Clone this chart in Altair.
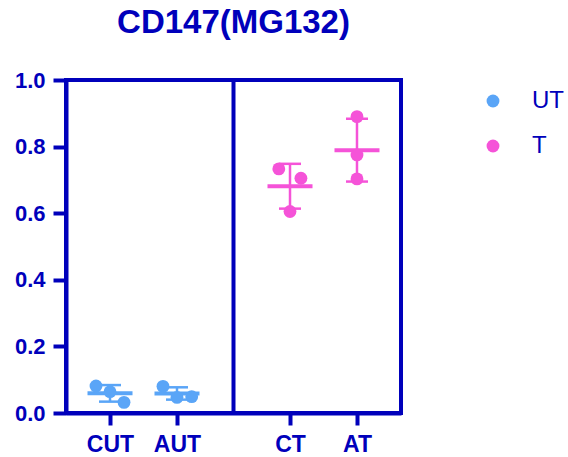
import altair as alt
import pandas as pd

BLUE = "#0000bb"
UT_COLOR = "#5aa5f7"
T_COLOR = "#f553d8"
FONT = "Liberation Sans"

categories = ["CUT", "AUT", "CT", "AT"]
treatments = ["UT", "UT", "T", "T"]

cut_vals = [0.081, 0.064, 0.032]
aut_vals = [0.080, 0.047, 0.049]
ct_vals = [0.733, 0.705, 0.605]
at_vals = [0.890, 0.775, 0.703]

# horizontal spread of the replicate dots (in dot widths)
cut_spread = [-1.0, 0.0, 1.0]
aut_spread = [-1.0, 0.0, 1.05]
ct_spread = [-0.8, 0.78, 0.0]
at_spread = [0.0, 0.0, 0.0]

# layout of the broken category axis: two groups of two slots
GROUP_GAP = 0.687
slot = {c: i + (GROUP_GAP if i >= 2 else 0.0) for i, c in enumerate(categories)}
divider = (slot["AUT"] + slot["CT"]) / 2
domain = [slot["CUT"] - 0.657, slot["AT"] + 0.657]

rows = []
for cat, trt, vals, spread in zip(categories, treatments,
                                  [cut_vals, aut_vals, ct_vals, at_vals],
                                  [cut_spread, aut_spread, ct_spread, at_spread]):
    for v, s in zip(vals, spread):
        rows.append({"cat": cat, "pos": slot[cat], "trt": trt, "val": v, "spread": s})
df = pd.DataFrame(rows)

color_scale = alt.Scale(domain=["UT", "T"], range=[UT_COLOR, T_COLOR])
y_scale = alt.Scale(domain=[0, 1], nice=False, zero=True)
label_expr = " : ".join(
    f"datum.value < {slot[c] + 0.5} ? '{c}'" for c in categories[:-1]
) + f" : '{categories[-1]}'"
x_enc = alt.X("pos:Q", scale=alt.Scale(domain=domain, nice=False, zero=False), title=None,
              axis=alt.Axis(values=[slot[c] for c in categories], labelExpr=label_expr,
                            labelAngle=0))
y_axis = alt.Axis(values=[0, 0.2, 0.4, 0.6, 0.8, 1.0], format=".1f", title=None)

base = alt.Chart(df)

pts = base.mark_circle(size=165, opacity=1, xOffset=alt.expr("datum.spread * 14")).encode(
    x=x_enc,
    y=alt.Y("val:Q", scale=y_scale, axis=y_axis),
    color=alt.Color("trt:N", scale=color_scale, title=None,
                    legend=alt.Legend(symbolType="circle", symbolOpacity=1,
                                      orient="none", legendX=415, legendY=9)),
)
stats = base.transform_aggregate(
    mean="mean(val)", sd="stdev(val)", groupby=["pos", "trt"]
).transform_calculate(lo="datum.mean - datum.sd", hi="datum.mean + datum.sd")
fill_nl = alt.Fill("trt:N", scale=color_scale, legend=None)
stroke_nl = alt.Stroke("trt:N", scale=color_scale, legend=None)
mean_tick = stats.mark_tick(size=45, thickness=4, opacity=1, orient="horizontal").encode(
    x=x_enc, y=alt.Y("mean:Q", scale=y_scale, axis=y_axis), fill=fill_nl)
err = stats.mark_rule(strokeWidth=2.5, opacity=1).encode(
    x=x_enc, y=alt.Y("lo:Q", scale=y_scale, axis=y_axis), y2="hi:Q", stroke=stroke_nl)
cap_lo = stats.mark_tick(size=22, thickness=2.5, opacity=1, orient="horizontal").encode(
    x=x_enc, y=alt.Y("lo:Q", scale=y_scale, axis=y_axis), fill=fill_nl)
cap_hi = stats.mark_tick(size=22, thickness=2.5, opacity=1, orient="horizontal").encode(
    x=x_enc, y=alt.Y("hi:Q", scale=y_scale, axis=y_axis), fill=fill_nl)
div = alt.Chart(pd.DataFrame({"d": [divider]})).mark_rule(color=BLUE, strokeWidth=4).encode(
    x=alt.X("d:Q", scale=alt.Scale(domain=domain, nice=False, zero=False)),
    y=alt.datum(0), y2=alt.datum(1),
)

chart = alt.layer(div, err, cap_lo, cap_hi, mean_tick, pts).properties(
    width=335, height=333,
    title=alt.TitleParams("CD147(MG132)", fontSize=33, font=FONT, fontWeight="bold",
                          color=BLUE, anchor="middle", frame="group", offset=29),
    autosize=alt.AutoSizeParams(type="none"),
    padding={"left": 66, "top": 80, "right": 167, "bottom": 44},
).resolve_scale(
    fill="independent", stroke="independent"
).configure_view(
    stroke=BLUE, strokeWidth=4
).configure_axis(
    domainColor=BLUE, domainWidth=4, tickColor=BLUE, tickWidth=4, tickSize=13,
    labelFont=FONT, labelFontWeight="bold", labelColor=BLUE, labelFontSize=22,
    labelPadding=8, grid=False,
).configure_axisX(
    labelFontSize=23, tickSize=12, labelPadding=8,
).configure_legend(
    padding=0, symbolSize=165,
    labelFont=FONT, labelFontSize=24, labelColor=BLUE,
    labelOffset=27, rowPadding=21, symbolStrokeWidth=0,
)

chart.save("out.html", embed_options={"renderer": "svg", "actions": False})
